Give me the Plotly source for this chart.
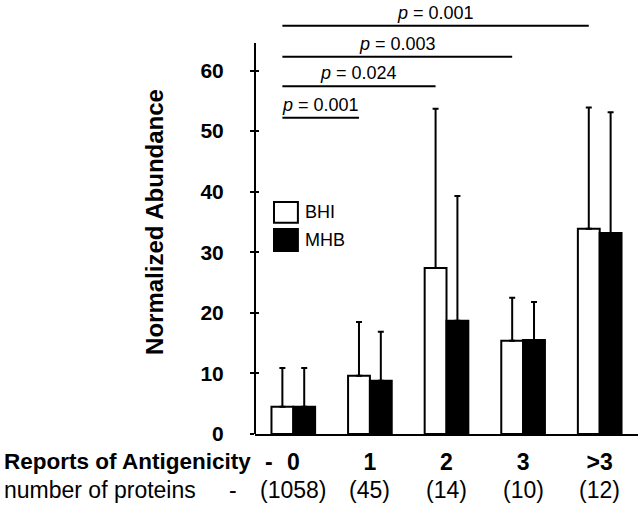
import plotly.graph_objects as go

# ---- data ----
categories = ["0", "1", "2", "3", ">3"]
protein_counts = ["(1058)", "(45)", "(14)", "(10)", "(12)"]
bhi_values = [4.5, 9.6, 27.4, 15.4, 33.9]
bhi_err = [6.4, 8.9, 26.3, 7.1, 20.0]
mhb_values = [4.5, 8.8, 18.7, 15.5, 33.2]
mhb_err = [6.4, 8.1, 20.6, 6.3, 19.9]
p_labels = ["0.001", "0.024", "0.003", "0.001"]
p_targets = [1, 2, 3, 4]          # comparisons: group 0 vs target group
y_ticks = [0, 10, 20, 30, 40, 50, 60]

# ---- layout constants ----
FONT = "Liberation Sans, Arial, sans-serif"
Y_MAX = 70
AXIS_TOP = 64.55
BARGAP = 0.43
bracket_levels = [52.2, 57.4, 62.3, 67.4]
x_idx = list(range(len(categories)))

fig = go.Figure()
fig.add_trace(go.Bar(
    x=x_idx, y=bhi_values, name="BHI",
    marker=dict(color="white", line=dict(color="black", width=2)),
    error_y=dict(type="data", array=bhi_err, symmetric=False,
                 arrayminus=[0] * len(bhi_err), color="black", thickness=2, width=3),
    showlegend=False,
))
fig.add_trace(go.Bar(
    x=x_idx, y=mhb_values, name="MHB",
    marker=dict(color="black", line=dict(color="black", width=2)),
    error_y=dict(type="data", array=mhb_err, symmetric=False,
                 arrayminus=[0] * len(mhb_err), color="black", thickness=2, width=3),
    showlegend=False,
))
# helper trace so the overlay axis (inner tick halves) is drawn
fig.add_trace(go.Scatter(x=[None], y=[None], yaxis="y2", showlegend=False, hoverinfo="skip"))

bhi_offset = -(1 - BARGAP) / 4

shapes = []
annotations = []
# y axis line (stops below the top of the plot area)
shapes.append(dict(type="line", xref="paper", yref="paper", x0=0, x1=0,
                   y0=0, y1=AXIS_TOP / Y_MAX, line=dict(color="black", width=2)))
# significance brackets
for lvl, tgt, lab in zip(bracket_levels, p_targets, p_labels):
    x0 = 0 + bhi_offset
    x1 = tgt + bhi_offset
    shapes.append(dict(type="line", xref="x", yref="y", x0=x0, x1=x1, y0=lvl, y1=lvl,
                       line=dict(color="black", width=2)))
    annotations.append(dict(x=(x0 + x1) / 2, y=lvl, xref="x", yref="y",
                            text=f"<i>p</i> = {lab}", showarrow=False,
                            yanchor="bottom", yshift=1,
                            font=dict(family=FONT, size=18, color="black")))

# manual legend
legend_items = [("BHI", "white"), ("MHB", "black")]
leg_x0, leg_x1 = 0.0496, 0.112
leg_rows = [(0.498, 0.547), (0.4316, 0.4835)]
for (name, col), (y0, y1) in zip(legend_items, leg_rows):
    shapes.append(dict(type="rect", xref="paper", yref="paper", x0=leg_x0, x1=leg_x1,
                       y0=y0, y1=y1, fillcolor=col, line=dict(color="black", width=2)))
    annotations.append(dict(x=0.125, y=(y0 + y1) / 2, xref="paper", yref="paper",
                            text=name, showarrow=False, xanchor="left", yanchor="middle",
                            font=dict(family=FONT, size=18, color="black")))

# row headers under the axis
ROW1_Y, ROW2_Y = -0.066, -0.132
annotations.append(dict(x=-0.6606, y=ROW1_Y, xref="paper", yref="paper",
                        text="<b>Reports of Antigenicity</b>", showarrow=False,
                        xanchor="left", yanchor="middle",
                        font=dict(family=FONT, size=22.5, color="black")))
annotations.append(dict(x=0.037, y=ROW1_Y, xref="paper", yref="paper",
                        text="<b>-</b>", showarrow=False, xanchor="center", yanchor="middle",
                        font=dict(family=FONT, size=23, color="black")))
annotations.append(dict(x=-0.6606, y=ROW2_Y, xref="paper", yref="paper",
                        text="number of proteins", showarrow=False,
                        xanchor="left", yanchor="middle",
                        font=dict(family=FONT, size=23, color="black")))
annotations.append(dict(x=-0.0574, y=ROW2_Y, xref="paper", yref="paper",
                        text="-", showarrow=False, xanchor="center", yanchor="middle",
                        font=dict(family=FONT, size=23, color="black")))
# protein counts under each category
for i, n in zip(x_idx, protein_counts):
    annotations.append(dict(x=i, y=ROW2_Y, xref="x", yref="paper", text=n,
                            showarrow=False, xanchor="center", yanchor="middle",
                            font=dict(family=FONT, size=23, color="black")))

ticktext = [f"<b>{c}</b>" for c in categories]

fig.update_layout(
    width=641, height=506,
    margin=dict(l=255, r=3, t=10, b=72),
    paper_bgcolor="white", plot_bgcolor="white",
    barmode="group", bargap=BARGAP, bargroupgap=0,
    font=dict(family=FONT, color="black"),
    shapes=shapes, annotations=annotations,
    xaxis=dict(range=[-0.5, 4.5], tickmode="array", tickvals=x_idx, ticktext=ticktext,
               showline=True, linecolor="black", linewidth=2, ticks="",
               showgrid=False, zeroline=False, ticklabelstandoff=6,
               tickfont=dict(family=FONT, size=23, color="black")),
    yaxis=dict(range=[0, Y_MAX], tickmode="array", tickvals=y_ticks,
               showline=False, ticks="outside", ticklen=4, tickwidth=2, tickcolor="black",
               showgrid=False, zeroline=False, ticklabelstandoff=22,
               tickfont=dict(family=FONT, size=21, color="black", weight="bold"),
               title=dict(text="<b>Normalized Abundance</b>", standoff=30,
                          font=dict(family=FONT, size=24, color="black"))),
    yaxis2=dict(range=[0, Y_MAX], overlaying="y", side="left", anchor="x",
                tickmode="array", tickvals=y_ticks, showticklabels=False,
                ticks="inside", ticklen=4, tickwidth=2, tickcolor="black",
                showgrid=False, zeroline=False, showline=False),
)

fig.write_html(
    "out.html",
    config={"displayModeBar": False},
    post_script="document.body.style.margin='0';document.body.style.overflow='hidden';",
)
